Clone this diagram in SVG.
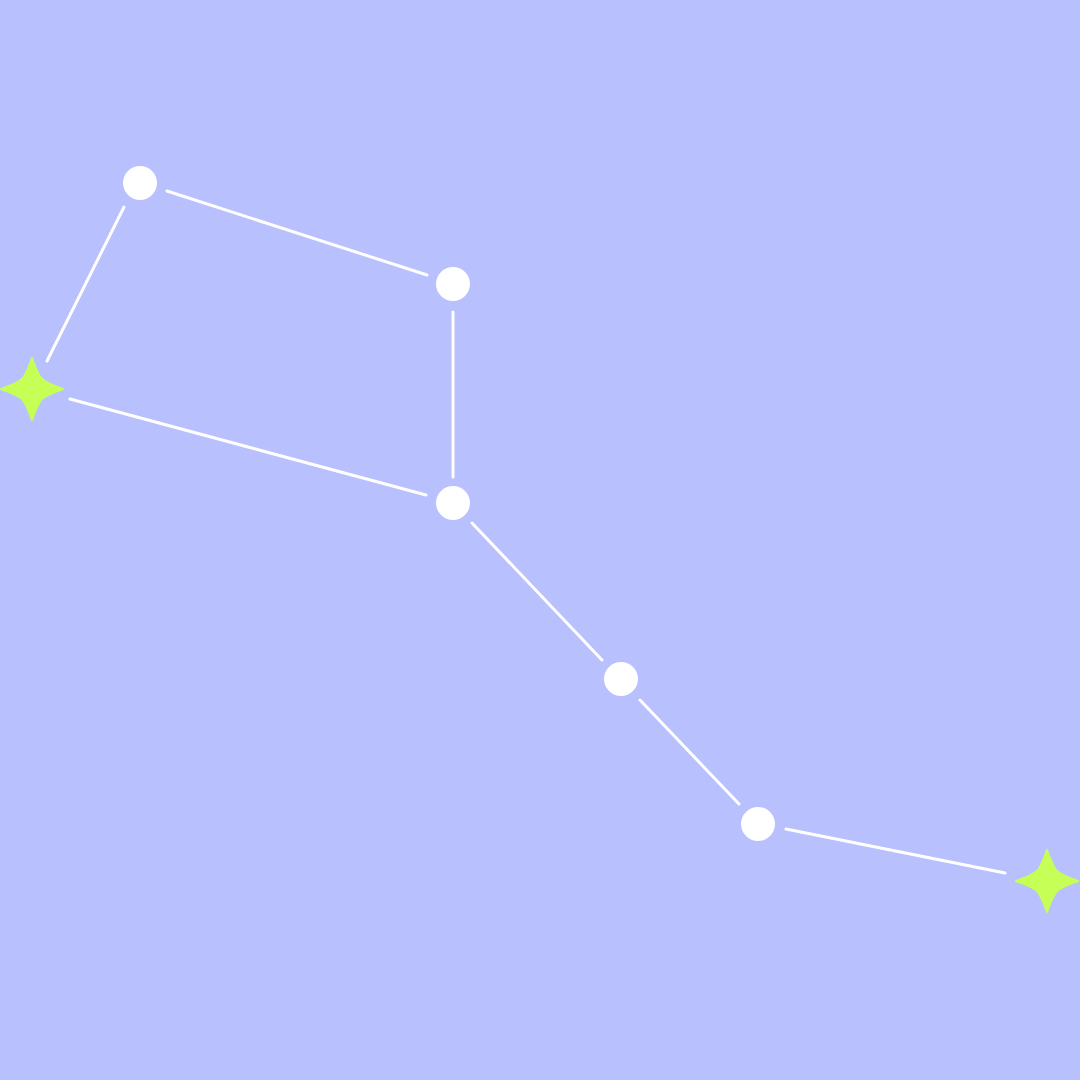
<svg xmlns="http://www.w3.org/2000/svg" width="1080" height="1080" viewBox="0 0 1080 1080">
<style>
.c{stroke:#ffffff;stroke-width:3;stroke-linecap:round;fill:none}
.s{fill:#ffffff}
.g{fill:#c6ff55;stroke:#c6ff55;stroke-width:2;stroke-linejoin:round}
</style>
<defs>
<path id="star" d="M0,-31 Q6,-14 10,-10 Q14,-6 31,0 Q14,6 10,10 Q6,14 0,31 Q-6,14 -10,10 Q-14,6 -31,0 Q-14,-6 -10,-10 Q-6,-14 0,-31Z"/>
</defs>
<rect width="1080" height="1080" fill="#b8c1fe"/>
<g id="connectors" class="c">
<line x1="124" y1="207" x2="47" y2="361"/>
<line x1="167" y1="191" x2="427" y2="275"/>
<line x1="453" y1="312" x2="453" y2="477"/>
<line x1="70" y1="399" x2="426" y2="495"/>
<line x1="472" y1="523" x2="602" y2="660"/>
<line x1="640" y1="700" x2="739" y2="804"/>
<line x1="786" y1="829" x2="1005" y2="873"/>
</g>
<g id="star1"><circle class="s" cx="140" cy="183" r="17"/></g>
<g id="star2"><circle class="s" cx="453" cy="284" r="17"/></g>
<g id="star3"><circle class="s" cx="453" cy="503" r="17"/></g>
<g id="star4"><circle class="s" cx="621" cy="679" r="17"/></g>
<g id="star5"><circle class="s" cx="758" cy="824" r="17"/></g>
<g id="bright1"><use href="#star" class="g" transform="translate(32,389)"/></g>
<g id="bright2"><use href="#star" class="g" transform="translate(1047,881)"/></g>
</svg>
